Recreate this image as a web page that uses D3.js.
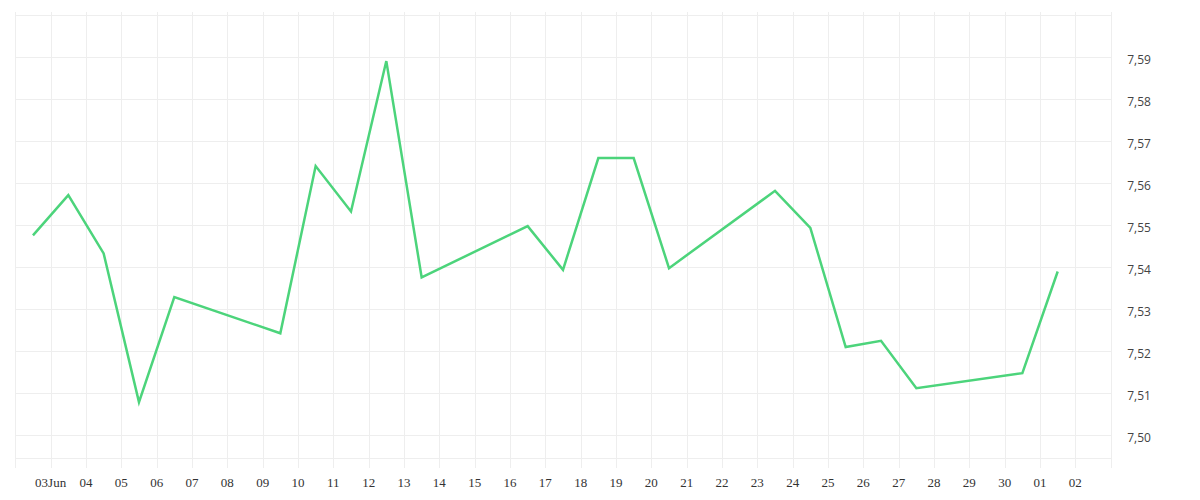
<!DOCTYPE html>
<meta charset="utf-8">
<script src="https://d3js.org/d3.v7.min.js"></script>
<style>
  body { margin: 0; background: #fff; }
  .grid line { stroke: #eeeeee; stroke-width: 1; shape-rendering: crispEdges; }
  .xlab text { font-family: "Liberation Serif", serif; font-size: 13px; fill: #333; }
  .ylab text { font-family: "Open Sans", sans-serif; font-size: 12px; fill: #444; }
</style>
<body>
<div id="chart"></div>
<script>
// daily rate (trading days, Jun 2025)
var dates = ["2025-06-02", "2025-06-03", "2025-06-04", "2025-06-05", "2025-06-06",
             "2025-06-09", "2025-06-10", "2025-06-11", "2025-06-12", "2025-06-13",
             "2025-06-16", "2025-06-17", "2025-06-18", "2025-06-19", "2025-06-20",
             "2025-06-23", "2025-06-24", "2025-06-25", "2025-06-26", "2025-06-27",
             "2025-06-30", "2025-07-01"];
var values = [7.5476, 7.5572, 7.5433, 7.5079, 7.5329,
              7.5243, 7.5641, 7.5533, 7.5891, 7.5376,
              7.5498, 7.5394, 7.5660, 7.5660, 7.5398,
              7.5582, 7.5494, 7.5210, 7.5225, 7.5112,
              7.5148, 7.5390];
var yTicks = [7.50, 7.51, 7.52, 7.53, 7.54, 7.55, 7.56, 7.57, 7.58, 7.59];
var yGrid = [7.50, 7.51, 7.52, 7.53, 7.54, 7.55, 7.56, 7.57, 7.58, 7.59, 7.60];
var xStart = "2025-06-02", xEnd = "2025-07-03";

var W = 1200, H = 500;
var margin = {top: 15.3, right: 89.3, bottom: 41.7, left: 15.3};

var svg = d3.select("#chart").append("svg")
    .attr("width", W)
    .attr("height", H);

var parse = d3.utcParse("%Y-%m-%d");
var data = dates.map(function(d, i) {
  // points sit at midday
  return { date: d3.utcHour.offset(parse(d), 12), value: values[i] };
});

var x = d3.scaleUtc()
  .domain([parse(xStart), parse(xEnd)])
  .range([margin.left, W - margin.right]);

// 7.60 at the top edge, 42px per 0.01
var y = d3.scaleLinear()
  .domain([7.60 - (H - margin.bottom - margin.top) / 4200, 7.60])
  .range([H - margin.bottom, margin.top]);

var days = d3.utcDay.range(parse(xStart), d3.utcDay.offset(parse(xEnd), 1));

// vertical grid (runs a bit past the plot)
svg.append("g").attr("class", "grid")
  .selectAll("line").data(days).join("line")
    .attr("x1", function(d) { return Math.round(x(d)) + 0.5; })
    .attr("x2", function(d) { return Math.round(x(d)) + 0.5; })
    .attr("y1", y.range()[1] - 3)
    .attr("y2", y.range()[0] + 10);

// horizontal grid
svg.append("g").attr("class", "grid")
  .selectAll("line").data(yGrid.concat([y.domain()[0]])).join("line")
    .attr("x1", x.range()[0])
    .attr("x2", x.range()[1])
    .attr("y1", function(d) { return Math.round(y(d)) + 0.5; })
    .attr("y2", function(d) { return Math.round(y(d)) + 0.5; });

// x labels
var labelDays = days.slice(1, days.length - 1);
svg.append("g").attr("class", "xlab")
  .selectAll("text").data(labelDays).join("text")
    .attr("x", function(d) { return x(d); })
    .attr("y", H - 13)
    .attr("text-anchor", "middle")
    .text(function(d, i) { return i === 0 ? d3.utcFormat("%dJun")(d) : d3.utcFormat("%d")(d); });

// y labels on the right
svg.append("g").attr("class", "ylab")
  .selectAll("text").data(yTicks).join("text")
    .attr("x", x.range()[1] + 16.5)
    .attr("y", function(d) { return y(d) + 6.5; })
    .text(function(d) { return d3.format(".2f")(d).replace(".", ","); });

// the line
svg.append("path")
  .datum(data)
  .attr("fill", "none")
  .attr("stroke", "#4cd47b")
  .attr("stroke-width", 2.5)
  .attr("stroke-linejoin", "miter")
  .attr("d", d3.line()
    .x(function(d) { return x(d.date); })
    .y(function(d) { return y(d.value); }));
</script>
</body>
